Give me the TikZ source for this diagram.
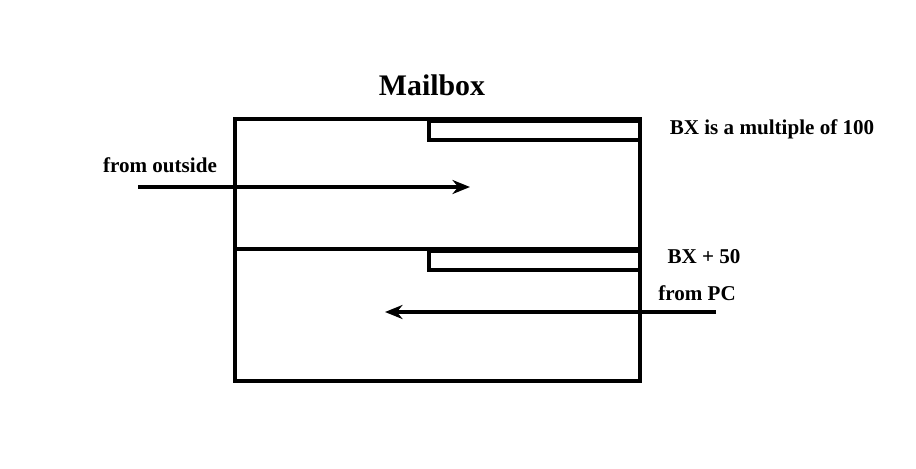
\documentclass[tikz,border=0pt]{standalone}
\usepackage{fontspec}
\setmainfont{Liberation Serif}
\usetikzlibrary{arrows.meta}
\begin{document}
\begin{tikzpicture}[x=0.02cm, y=-0.02cm, line width=1.9pt,
    lbl/.style={font=\bfseries\fontsize{12}{14}\selectfont}]
  \useasboundingbox (0,0) rectangle (916,468);
  \draw (235,119) rectangle (640,381);
  \draw (235,249) -- (640,249);
  \draw (640,121) -| (429,140) -- (640,140);
  \draw (640,251) -| (429,270) -- (640,270);
  \node[font=\bfseries\fontsize{17}{20}\selectfont] (title) at (432,85) {Mailbox};
  \node[lbl] (outside) at (160,165) {from outside};
  \node[lbl] (mult) at (772,129) {BX is a multiple of 100};
  \node[lbl] (plus) at (704,257) {BX + 50};
  \node[lbl] (pc) at (697,293) {from PC};
  \coordinate (in1) at (138,187);
  \coordinate (in2) at (470,187);
  \coordinate (pc1) at (716,312);
  \coordinate (pc2) at (385,312);
  \draw[-{Stealth[length=10pt,width=8pt]}] (in1) -- (in2);
  \draw[-{Stealth[length=10pt,width=8pt]}] (pc1) -- (pc2);
\end{tikzpicture}
\end{document}
